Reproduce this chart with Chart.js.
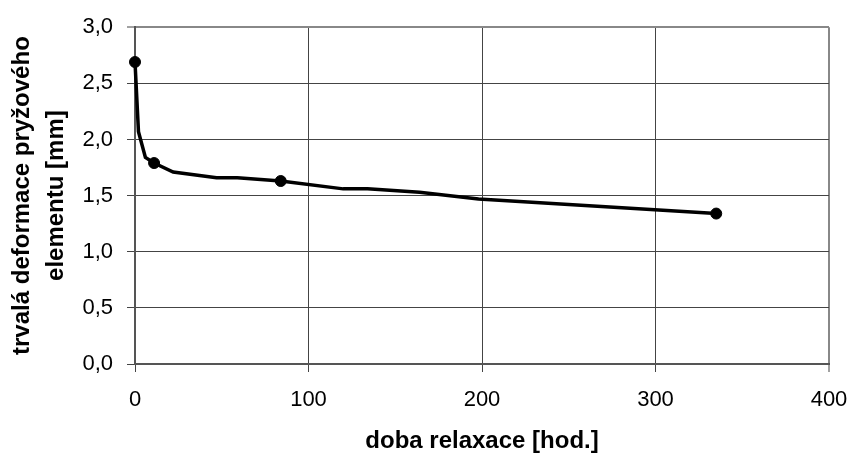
<!DOCTYPE html>
<html>
<head>
  <title>Trvalá deformace</title>
  <script src="https://cdn.jsdelivr.net/npm/chart.js"></script>
  <style>
    body { margin: 0; background: #fff; }
    #wrap { width: 851px; height: 457px; }
  </style>
</head>
<body>
  <div id="wrap"><canvas id="relaxChart"></canvas></div>

  <script>
    // measured curve: doba relaxace [hod.] / trvala deformace [mm]
    const hours = [0, 2, 6, 11, 22, 47, 59, 84, 120, 134, 164, 198, 335];
    const deform = [2.69, 2.07, 1.84, 1.79, 1.71, 1.66, 1.66, 1.63, 1.56, 1.56, 1.53, 1.47, 1.34];

    // points highlighted with a marker
    const markHours = [0, 11, 84, 335];
    const markDeform = [2.69, 1.79, 1.63, 1.34];

    const xTitle = 'doba relaxace [hod.]';
    const yTitle = ['trvalá deformace pryžového', 'elementu [mm]'];

    const fmt = v => v.toFixed(1).replace('.', ',');

    // outer frame (top / right) is lighter and thicker than inner grid
    const gridColor = max => c => (c.tick && c.tick.value === max ? '#888' : '#444');
    const gridWidth = max => c => (c.tick && c.tick.value === max ? 2 : 1);

    const ctx = document.getElementById('relaxChart').getContext('2d');
    new Chart(ctx, {
      type: 'scatter',
      data: {
        datasets: [
          {
            label: 'průběh',
            data: hours.map((h, i) => ({ x: h, y: deform[i] })),
            showLine: true,
            borderColor: '#000',
            borderWidth: 3.5,
            pointRadius: 0,
            tension: 0,
            clip: false
          },
          {
            label: 'body',
            data: markHours.map((h, i) => ({ x: h, y: markDeform[i] })),
            backgroundColor: '#000',
            borderColor: '#000',
            pointRadius: 5.5,
            clip: false
          }
        ]
      },
      options: {
        responsive: true,
        maintainAspectRatio: false,
        animation: false,
        layout: { padding: { top: 24, right: 22, left: 0, bottom: 0 } },
        plugins: {
          legend: { display: false },
          tooltip: { enabled: false }
        },
        scales: {
          x: {
            type: 'linear',
            min: 0,
            max: 400,
            ticks: {
              stepSize: 100,
              color: '#000',
              padding: 15,
              maxRotation: 0,
              font: { family: 'Liberation Sans', size: 22 }
            },
            grid: { color: gridColor(400), lineWidth: gridWidth(400), tickLength: 8, tickColor: '#444', tickWidth: 1 },
            border: { color: '#555', width: 2 },
            title: {
              display: true,
              text: xTitle,
              color: '#000',
              padding: { top: 0, bottom: 4 },
              font: { family: 'Liberation Sans', size: 24, weight: 'bold', lineHeight: 1 }
            },
            afterFit: scale => {
              scale.height = 93;
              scale.paddingLeft = 0;
              scale.paddingRight = 0;
            }
          },
          y: {
            min: 0,
            max: 3,
            ticks: {
              stepSize: 0.5,
              color: '#000',
              padding: 14,
              callback: v => fmt(v),
              font: { family: 'Liberation Sans', size: 22 }
            },
            grid: { color: gridColor(3), lineWidth: gridWidth(3), tickLength: 8, tickColor: '#444', tickWidth: 1 },
            border: { color: '#555', width: 2 },
            title: {
              display: true,
              text: yTitle,
              color: '#000',
              padding: { top: 6, bottom: 0 },
              font: { family: 'Liberation Sans', size: 24, weight: 'bold', lineHeight: 1.4 }
            },
            afterFit: scale => { scale.width = 135; }
          }
        }
      }
    });
  </script>
</body>
</html>
